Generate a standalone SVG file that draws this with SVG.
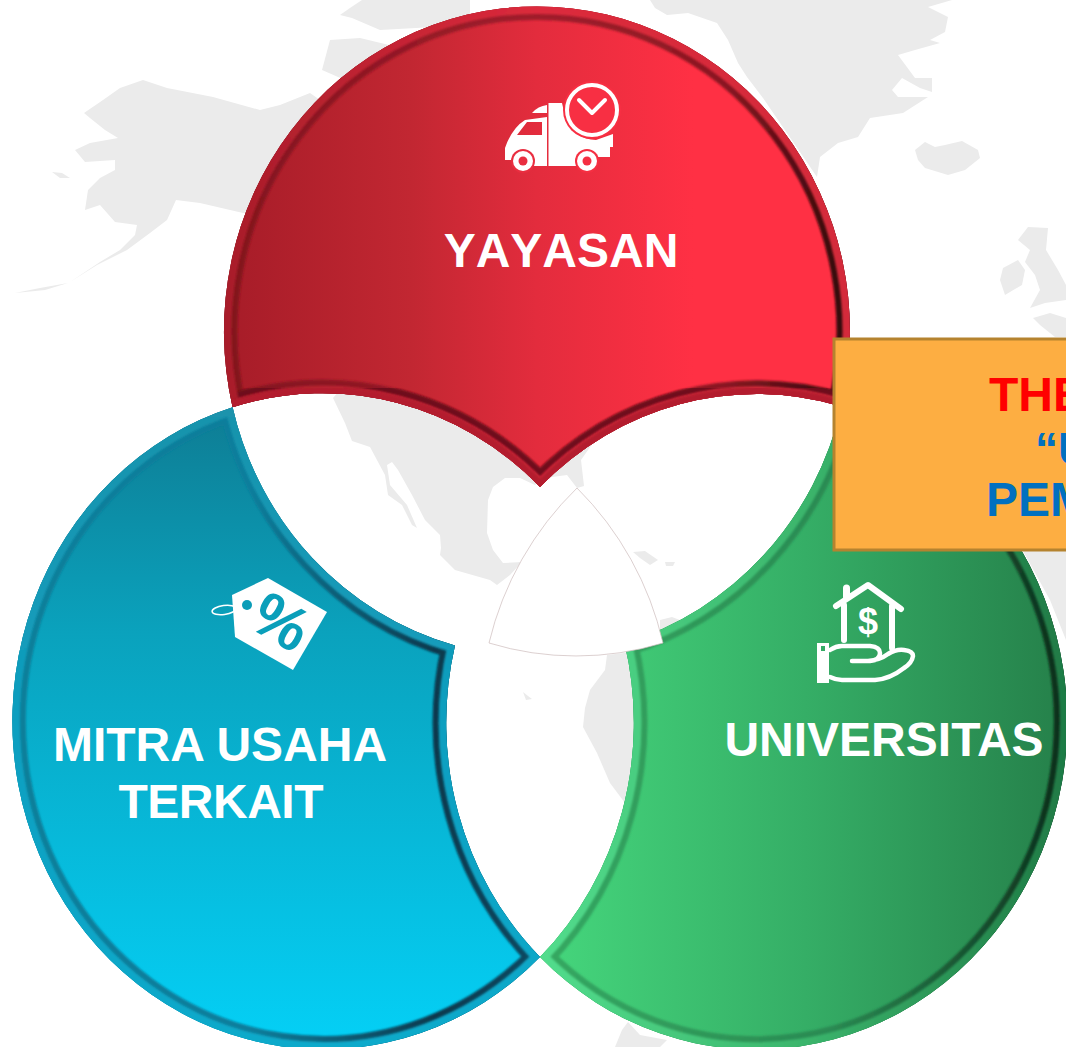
<svg xmlns="http://www.w3.org/2000/svg" xmlns:xlink="http://www.w3.org/1999/xlink" width="1066" height="1047" viewBox="0 0 1066 1047">
<style>
.land{fill:#ebebeb}
.lbl{font-family:"Liberation Sans",Arial,sans-serif;font-weight:700;font-size:48px;fill:#fff}
.box{font-family:"Liberation Sans",Arial,sans-serif;font-weight:700}
.ln{fill:none;stroke:#fff;stroke-linecap:round;stroke-linejoin:round}
</style>
<defs>
<path id="pR" d="M232.6 407.3A313 325 0 1 1 841.5 406.5A310 327 0 0 0 540 487A310 327 0 0 0 232.6 407.3Z"/>
<path id="pB" d="M232.6 407.3A311.2 328.2 0 1 0 540 957A310 327 0 0 1 455 645.5A313 325 0 0 1 232.6 407.3Z"/>
<path id="pG" d="M540 957A310.8 327.8 0 1 0 841.5 406.5A313 325 0 0 1 624.5 643A310 327 0 0 1 540 957Z"/>
<clipPath id="cR"><use href="#pR"/></clipPath>
<clipPath id="cB"><use href="#pB"/></clipPath>
<clipPath id="cG"><use href="#pG"/></clipPath>
<filter id="soft" x="-5%" y="-5%" width="110%" height="110%"><feGaussianBlur stdDeviation="1.2"/></filter>
<linearGradient id="rF" gradientUnits="userSpaceOnUse" x1="224" y1="0" x2="850" y2="0"><stop offset="0" stop-color="#a61c28"/><stop offset=".3" stop-color="#c22732"/><stop offset=".5" stop-color="#e32c3d"/><stop offset=".75" stop-color="#ff3044"/><stop offset="1" stop-color="#ff3044"/></linearGradient>
<linearGradient id="rD" gradientUnits="userSpaceOnUse" x1="224" y1="0" x2="850" y2="0"><stop offset="0" stop-color="#82131e"/><stop offset=".5" stop-color="#a01e2c"/><stop offset=".8" stop-color="#8a1822"/><stop offset="1" stop-color="#2c0609"/></linearGradient>
<linearGradient id="rM" gradientUnits="userSpaceOnUse" x1="224" y1="0" x2="850" y2="0"><stop offset="0" stop-color="#a81d2a"/><stop offset=".5" stop-color="#dc2a3c"/><stop offset="1" stop-color="#d42a3a"/></linearGradient>
<linearGradient id="bF" gradientUnits="userSpaceOnUse" x1="0" y1="410" x2="0" y2="1047"><stop offset="0" stop-color="#0e7d94"/><stop offset=".35" stop-color="#0aa2bd"/><stop offset="1" stop-color="#04d0f6"/></linearGradient>
<linearGradient id="bD" gradientUnits="userSpaceOnUse" x1="13" y1="0" x2="540" y2="0"><stop offset="0" stop-color="#0c7f9a"/><stop offset=".45" stop-color="#0b7e9c"/><stop offset=".8" stop-color="#07394d"/><stop offset="1" stop-color="#0a4a62"/></linearGradient>
<linearGradient id="bM" gradientUnits="userSpaceOnUse" x1="0" y1="410" x2="0" y2="1047"><stop offset="0" stop-color="#1a93ac"/><stop offset=".5" stop-color="#0f9fc0"/><stop offset="1" stop-color="#11aacb"/></linearGradient>
<linearGradient id="gF" gradientUnits="userSpaceOnUse" x1="545" y1="0" x2="1066" y2="0"><stop offset="0" stop-color="#45d67c"/><stop offset=".5" stop-color="#35ae66"/><stop offset="1" stop-color="#25804a"/></linearGradient>
<linearGradient id="gD" gradientUnits="userSpaceOnUse" x1="545" y1="0" x2="1066" y2="0"><stop offset="0" stop-color="#35a862"/><stop offset=".55" stop-color="#2a8a52"/><stop offset="1" stop-color="#0c2c1a"/></linearGradient>
<linearGradient id="gM" gradientUnits="userSpaceOnUse" x1="545" y1="0" x2="1066" y2="0"><stop offset="0" stop-color="#52dc8c"/><stop offset=".5" stop-color="#3bb56c"/><stop offset="1" stop-color="#1f7a45"/></linearGradient>
</defs>
<rect width="1066" height="1047" fill="#fff"/>
<g id="map">
<path class="land" d="M84 113L103 100L120 88L143 80L167 88L213 97L260 110L280 105L310 93L320 100L345 130L300 215L243 213L200 203L176 200L167 220L150 233L127 250L97 265L70 282L100 262L120 250L135 235L137 225L115 222L100 205L85 210L88 190L100 178L115 170L115 160L85 162L75 150L90 143L118 138L105 130L90 118Z"/>
<path class="land" d="M52 172L62 173L70 178L60 178Z"/>
<path class="land" d="M15 293L40 288L68 283L45 290Z"/>
<path class="land" d="M340 15L350 8L362 0L470 0L470 25L380 30L352 18Z"/>
<path class="land" d="M322 70L330 40L360 38L410 50L380 90L345 80Z"/>
<path class="land" d="M650 0L655 8L667 15L688 13L717 23L728 40L738 63L747 77L763 98L817 177L820 157L838 143L858 137L870 118L903 113L928 97L898 97L892 90L902 78L920 88L932 92L932 78L915 78L898 55L915 50L940 43L930 40L945 32L948 17L928 7L952 0Z"/>
<path class="land" d="M915 150L925 142L935 147L945 145L962 141L978 150L980 158L965 170L948 175L925 168L918 160Z"/>
<path class="land" d="M1000 280L1003 268L1018 260L1025 270L1022 285L1005 295Z"/>
<path class="land" d="M1018 240L1028 227L1048 228L1046 250L1058 270L1066 285V300L1045 303L1030 308L1040 290L1035 275L1025 262L1030 250Z"/>
<path class="land" d="M1033 318L1050 313L1066 318V337H1055L1040 325Z"/>
<path class="land" d="M333 398L345 423L352 441L370 447L385 475L388 495L402 505L412 525L417 528L407 505L390 485L387 465L392 462L398 470L412 495L425 520L440 535L441 548L440 555L455 570L490 580L497 585L510 575L522 562L503 563L493 550L487 533L488 500L493 487L505 478L520 478L535 485L545 478L567 475L577 488L584 486L581 460L595 440L500 400L340 390Z"/>
<path class="land" d="M633 552L645 551L658 560L650 565L640 558Z"/>
<path class="land" d="M665 562L675 562L673 566L666 566Z"/>
<path class="land" d="M660 620L672 617L685 622L680 640H660Z"/>
<path class="land" d="M607 655L605 670L590 690L585 708L583 727L597 753L610 783L625 803L650 800L650 650Z"/>
<path class="land" d="M523 692L528 696L532 699L526 700Z"/>
<path class="land" d="M615 1047L622 1030L628 1022L640 1035L667 1040L660 1047Z"/>
<path class="land" d="M1023 551H1066V640L1050 600Z"/>
</g>
<g id="node-yayasan">
<use href="#pR" fill="url(#rF)"/>
<g clip-path="url(#cR)" fill="none">
<use href="#pR" stroke="url(#rD)" stroke-width="27" filter="url(#soft)"/>
<path d="M841.5 406.500A310 327 0 0 0 540 487A310 327 0 0 0 232.600 407.300" stroke="#6e101a" stroke-width="27" filter="url(#soft)"/>
<use href="#pR" stroke="url(#rM)" stroke-width="15" filter="url(#soft)"/>
<path d="M841.5 406.500A310 327 0 0 0 540 487A310 327 0 0 0 232.600 407.300" stroke="#b31f2e" stroke-width="13" filter="url(#soft)"/>
</g>
<text class="lbl" x="561" y="267" text-anchor="middle" style="font-kerning:none">YAYASAN</text>
<g id="icon-truck">
<path fill="#fff" d="M532 113Q538 106 547 105V113Z"/>
<path fill="#fff" fill-rule="evenodd" d="M547 117L525 120Q512 128 505 148V160H513V166H547V117ZM517 135L527 122H542V135Z"/>
<path fill="#fff" d="M548.500 103H562L566 120Q575 139 596 140L613 134V147H610V157H598V166H548.500Z"/>
<circle cx="523" cy="161" r="12" fill="#e92e40"/><circle cx="523" cy="161" r="10" fill="#fff"/><circle cx="523" cy="161" r="4.500" fill="#e92e40"/>
<circle cx="587" cy="161" r="12" fill="#f52f42"/><circle cx="587" cy="161" r="10" fill="#fff"/><circle cx="587" cy="161" r="4.500" fill="#f52f42"/>
<circle cx="592" cy="110" r="29" fill="#f82f43"/>
<circle cx="592" cy="110" r="25" fill="none" stroke="#fff" stroke-width="4"/>
<path class="ln" stroke-width="4" d="M579 100L592 113L605 100"/>
</g>
</g>
<g id="node-mitra">
<use href="#pB" fill="url(#bF)"/>
<g clip-path="url(#cB)" fill="none">
<use href="#pB" stroke="url(#bD)" stroke-width="27" filter="url(#soft)"/>
<use href="#pB" stroke="url(#bM)" stroke-width="15" filter="url(#soft)"/>
</g>
<text class="lbl" x="220" y="761" text-anchor="middle">MITRA USAHA</text>
<text class="lbl" x="221" y="818" text-anchor="middle" textLength="205">TERKAIT</text>
<g id="icon-tag">
<path fill="#fff" d="M232 595L268 578L327 612L293 670L235 637Z"/>
<circle cx="247" cy="605" r="5" fill="#0b9db8"/>
<ellipse cx="224" cy="610" rx="12" ry="4.500" transform="rotate(-8 224 610)" fill="none" stroke="#fff" stroke-width="1.500"/>
<text class="box" x="0" y="0" font-size="62" fill="#0a9fba" text-anchor="middle" transform="translate(281 622) rotate(30) translate(0 21)">%</text>
</g>
</g>
<g id="node-universitas">
<use href="#pG" fill="url(#gF)"/>
<g clip-path="url(#cG)" fill="none">
<use href="#pG" stroke="url(#gD)" stroke-width="27" filter="url(#soft)"/>
<use href="#pG" stroke="url(#gM)" stroke-width="15" filter="url(#soft)"/>
</g>
<text class="lbl" x="884" y="756" text-anchor="middle">UNIVERSITAS</text>
<g id="icon-house">
<path class="ln" stroke-width="6" stroke-linecap="butt" d="M836 606L868 585L901 609"/>
<path class="ln" stroke-width="7" stroke-linecap="butt" d="M846.500 597V588"/>
<path class="ln" stroke-width="6" stroke-linecap="butt" d="M844 605V640M892 606V648"/>
<text class="box" x="868" y="634" font-size="36" fill="#fff" text-anchor="middle">$</text>
<path fill="#fff" fill-rule="evenodd" d="M817 643H829V683H817ZM821 646V651H825V646Z"/>
<path class="ln" stroke-width="4.500" d="M830 650Q836 646 842 646H870Q880 647 880 653Q880 660 870 661H852M868 661Q880 660 888 654Q896 649 904 650Q913 651 913 656Q912 663 904 668Q890 679 875 680H842Q836 680 830 677"/>
</g>
</g>
<path id="node-center" d="M577 488A320 320 0 0 1 663 643A298 298 0 0 1 489 643A320 320 0 0 1 577 488Z" fill="#fff" stroke="#cdbcbc" stroke-width=".7"/>
<g id="node-callout">
<rect x="834" y="339" width="240" height="211" fill="#fdae42" stroke="#b5832f" stroke-width="3"/>
<text class="box" x="989" y="411" font-size="48" fill="#ff0000">THE</text>
<text class="box" x="1035" y="465" font-size="46" fill="#0070c0">“U</text>
<text class="box" x="986" y="516" font-size="48" fill="#0070c0">PEM</text>
</g>
</svg>
